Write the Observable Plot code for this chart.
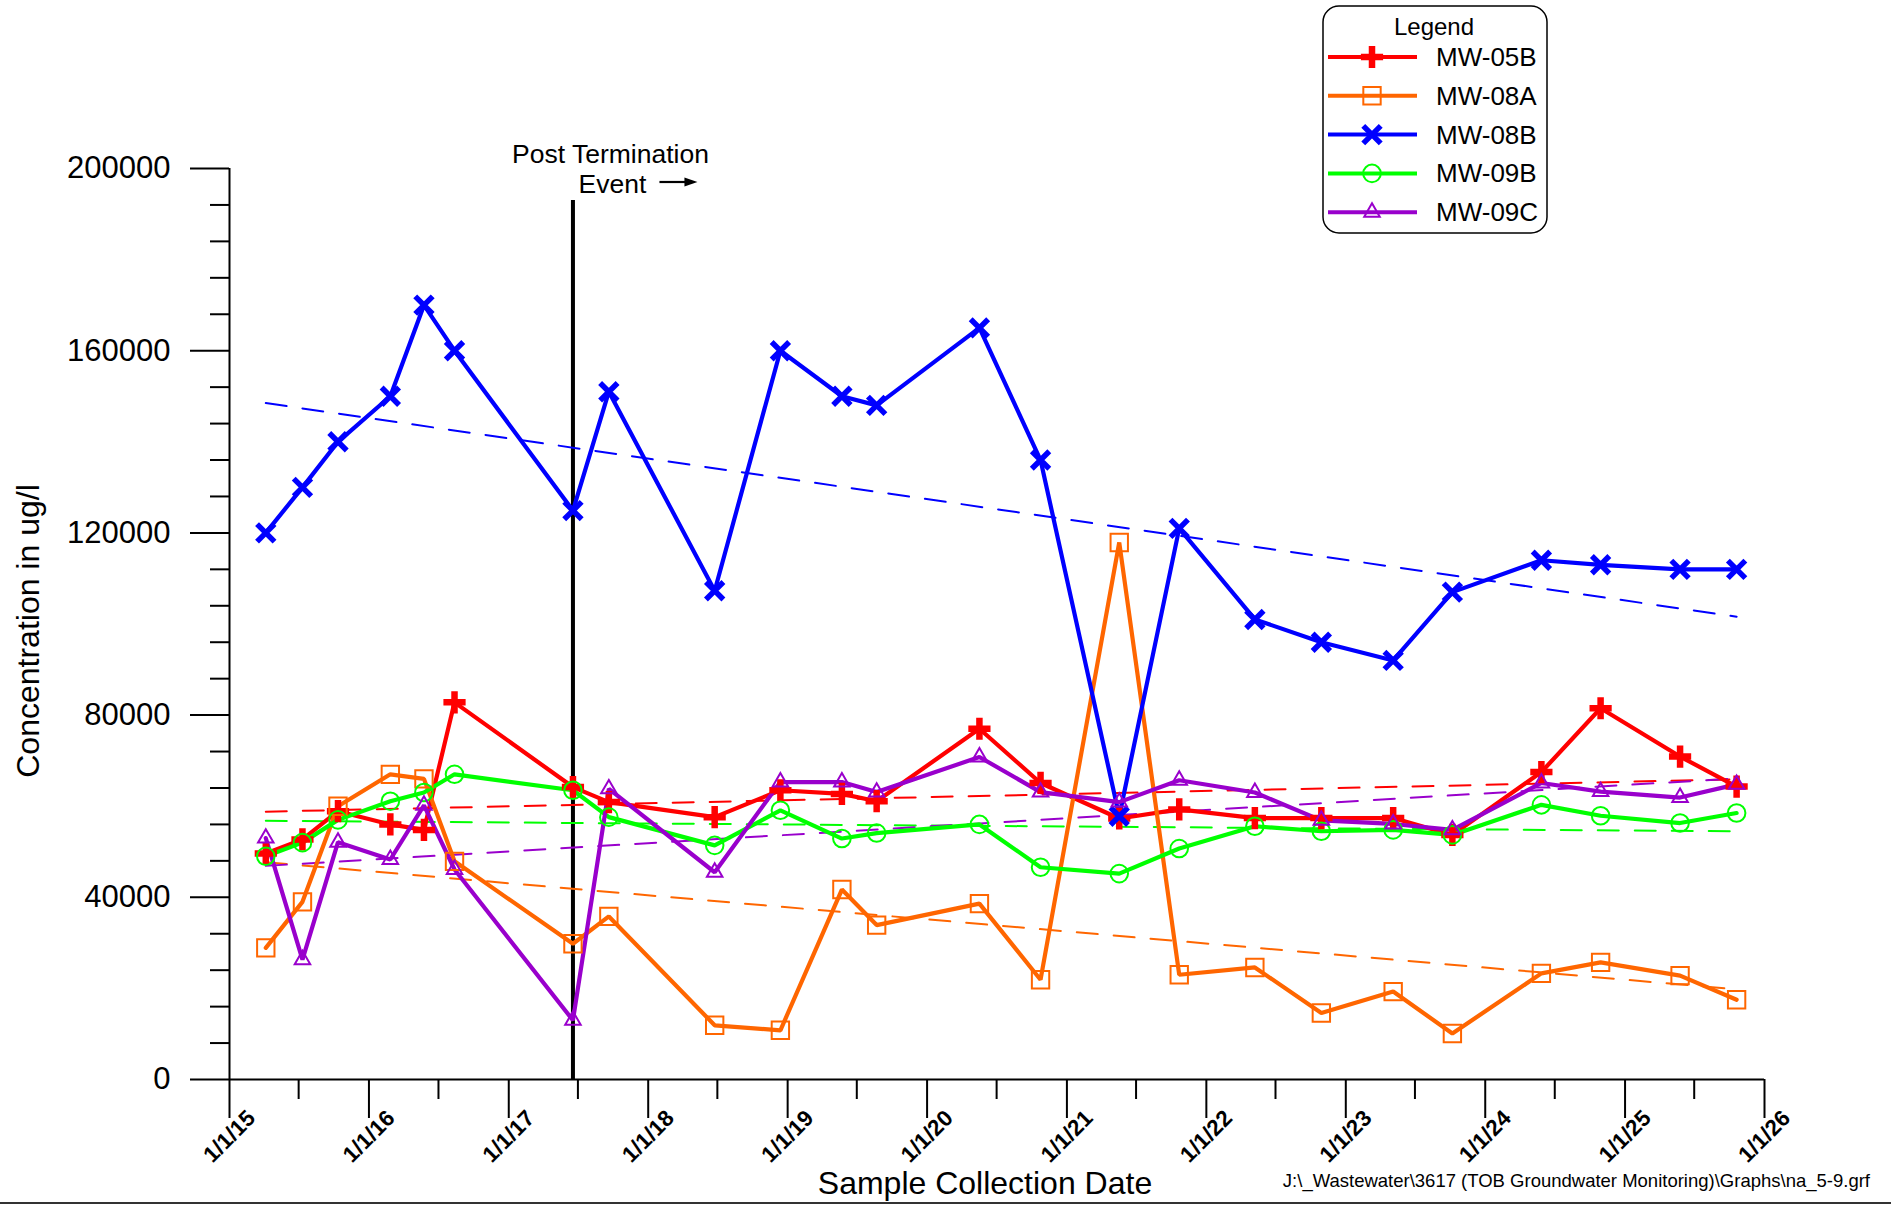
<!DOCTYPE html>
<html><head><meta charset="utf-8">
<script src="https://cdn.jsdelivr.net/npm/d3@7"></script>
<script src="https://cdn.jsdelivr.net/npm/@observablehq/plot@0.6"></script>
<style>
html,body{margin:0;padding:0;background:#fff;}
#chart svg{display:block;}
</style>
</head><body><div id="chart"></div>
<script>
// ---------- DATA ----------
const sampleDates = [
  "2015-04-06","2015-07-11","2015-10-12","2016-02-26","2016-05-24","2016-08-12",
  "2017-06-18","2017-09-20","2018-06-24","2018-12-13","2019-05-23","2019-08-22",
  "2020-05-17","2020-10-24","2021-05-18","2021-10-22","2022-05-08","2022-10-29",
  "2023-05-05","2023-10-07","2024-05-27","2024-10-29","2025-05-25","2025-10-20"
];
const seriesNames = ["MW-05B","MW-08A","MW-08B","MW-09B","MW-09C"];
const seriesColors = ["#ff0000","#ff6600","#0000ff","#00ff00","#9900cc"];

const mw05b = [49600,52700,58900,56000,54800,82800,64200,60900,57600,63500,62700,61100,
               77000,65100,57300,59300,57400,57400,57400,53700,67500,81500,70900,64300];
const mw08a = [28900,39000,60000,67000,66000,47900,29800,35800,11900,10800,41700,33900,
               38600,21900,117900,23000,24600,14600,19300,10100,23300,25700,22800,17500];
const mw08b = [120000,130000,140000,150000,170000,160000,124900,151000,107300,160000,150000,148000,
               165000,136000,57800,121000,101000,96000,92000,107000,114000,113000,112000,112000];
const mw09b = [49000,52000,57000,61100,63000,67000,63500,57600,51400,59100,52900,54100,
               56000,46600,45200,50700,55600,54500,54800,53700,60300,57900,56300,58500];
const mw09c = [53000,26300,52100,48300,60200,46100,13000,63800,45500,65300,65300,63100,
               70800,63100,60900,65700,63000,56900,56100,54800,65100,63200,61900,64800];

// dashed trend lines: value at first and last sample date
const trendStart = [58800, 47700, 148500, 56800, 46900];
const trendEnd   = [65900, 19800, 101600, 54500, 66100];

const yMajorTicks = [0, 40000, 80000, 120000, 160000, 200000];
const xTickLabels = ["1/1/15","1/1/16","1/1/17","1/1/18","1/1/19","1/1/20","1/1/21","1/1/22","1/1/23","1/1/24","1/1/25","1/1/26"];
const eventDate = "2017-06-18";
const eventTop = 193000;
const eventLabel = ["Post Termination", "Event"];
const xLabel = "Sample Collection Date";
const yLabel = "Concentration in ug/l";
const footer = "J:\\_Wastewater\\3617 (TOB Groundwater Monitoring)\\Graphs\\na_5-9.grf";

// ---------- BUILD ----------
const seriesValues = [mw05b, mw08a, mw08b, mw09b, mw09c];
const dates = sampleDates.map(d => new Date(d + "T00:00:00Z"));
const rows = seriesNames.flatMap((s, i) => dates.map((d, j) => ({series: s, date: d, value: seriesValues[i][j]})));
const trendRows = seriesNames.flatMap((s, i) => [
  {series: s, date: dates[0], value: trendStart[i]},
  {series: s, date: dates[dates.length - 1], value: trendEnd[i]}
]);
const parseTick = d3.utcParse("%m/%d/%y");
const xTickDates = xTickLabels.map(parseTick);
const xDomain = [xTickDates[0], xTickDates[xTickDates.length - 1]];
const xMinorDates = d3.utcMonth.every(6).range(xDomain[0], xDomain[1]).filter(d => d.getUTCMonth() === 6);
const yMinorTicks = d3.range(0, 200001, 8000).filter(v => v % 40000 !== 0);
const eventD = new Date(eventDate + "T00:00:00Z");

const symbolSpec = {
  "MW-05B": {symbol: "plus", r: 7.2, sw: 6.5},
  "MW-08A": {symbol: "square", r: 9.8, sw: 2},
  "MW-08B": {symbol: "times", r: 8, sw: 5.5},
  "MW-09B": {symbol: "circle", r: 8.8, sw: 2},
  "MW-09C": {symbol: "triangle2", r: 7.4, sw: 2}
};
const colorOf = s => seriesColors[seriesNames.indexOf(s)];
const FONT = "'Liberation Sans', Arial, Helvetica, sans-serif";

const W = 1891, H = 1205;
const plot = Plot.plot({
  width: W, height: H,
  marginLeft: 229, marginRight: 127, marginTop: 168, marginBottom: 126,
  style: {fontFamily: FONT, fontSize: "16px", color: "black", background: "white", overflow: "visible"},
  x: {type: "utc", domain: xDomain, axis: null},
  y: {domain: [0, 200000], axis: null},
  marks: [
    Plot.axisY(yMinorTicks, {tickSize: 19, text: null, strokeWidth: 2, label: null}),
    Plot.axisY(yMajorTicks, {tickSize: 39, tickPadding: 20, strokeWidth: 2, fontSize: 31, label: null, tickFormat: d3.format("d")}),
    Plot.axisX(xMinorDates, {tickSize: 20, text: null, strokeWidth: 2, label: null}),
    Plot.axisX(xTickDates, {tickSize: 39, text: null, strokeWidth: 2, label: null}),
    Plot.text(xTickDates, {x: d => d, text: (d, i) => xTickLabels[i], frameAnchor: "bottom", dy: 57, rotate: -45,
      textAnchor: "middle", lineAnchor: "middle", fontSize: 22.5, fontWeight: "bold"}),
    Plot.ruleY([0], {strokeWidth: 2}),
    Plot.ruleX([xDomain[0]], {strokeWidth: 2}),
    Plot.ruleX([eventD], {y1: 0, y2: eventTop, strokeWidth: 4, stroke: "black"}),
    ...seriesNames.map(s => Plot.line(trendRows.filter(r => r.series === s), {
      x: "date", y: "value", stroke: colorOf(s), strokeWidth: 2, strokeDasharray: "21,16"})),
    ...seriesNames.map(s => Plot.line(rows.filter(r => r.series === s), {
      x: "date", y: "value", stroke: colorOf(s), strokeWidth: 4.2, strokeLinejoin: "miter"})),
    ...seriesNames.map(s => Plot.dot(rows.filter(r => r.series === s), {
      x: "date", y: "value", symbol: symbolSpec[s].symbol, r: symbolSpec[s].r,
      stroke: colorOf(s), strokeWidth: symbolSpec[s].sw, fill: "none"}))
  ]
});

document.getElementById("chart").appendChild(plot);

// ---------- ANNOTATIONS ----------
const svg = d3.select(plot);
const g = svg.append("g").attr("font-family", FONT).attr("fill", "black").attr("text-anchor", "start");

// axis titles
g.append("text").attr("transform", "translate(28,631) rotate(-90)")
  .attr("text-anchor", "middle").attr("dy", "0.35em").attr("font-size", 32).text(yLabel);
g.append("text").attr("x", 985).attr("y", 1194).attr("text-anchor", "middle")
  .attr("font-size", 32).text(xLabel);
g.append("text").attr("x", 1870).attr("y", 1187).attr("text-anchor", "end")
  .attr("font-size", 18.5).text(footer);

// event label
const ex = plot.scale("x").apply(eventD);
g.append("text").attr("x", ex + 38).attr("y", 163).attr("text-anchor", "middle")
  .attr("font-size", 26.5).text(eventLabel[0]);
g.append("text").attr("x", ex + 40).attr("y", 193).attr("text-anchor", "middle")
  .attr("font-size", 26.5).text(eventLabel[1]);
g.append("line").attr("x1", ex + 87).attr("x2", ex + 115).attr("y1", 182).attr("y2", 182)
  .attr("stroke", "black").attr("stroke-width", 2.2);
g.append("path").attr("d", `M${ex + 125},182 L${ex + 112},177.5 L${ex + 112},186.5 Z`).attr("fill", "black");

// legend
const lg = g.append("g");
lg.append("rect").attr("x", 1323).attr("y", 6).attr("width", 224).attr("height", 227)
  .attr("rx", 16).attr("fill", "white").attr("stroke", "black").attr("stroke-width", 1.5);
lg.append("text").attr("x", 1434).attr("y", 35).attr("text-anchor", "middle").attr("font-size", 24).text("Legend");
const symMap = {plus: d3.symbolPlus, square: d3.symbolSquare, times: d3.symbolTimes, circle: d3.symbolCircle, triangle2: d3.symbolTriangle2};
seriesNames.forEach((s, i) => {
  const y = 57 + i * 38.8;
  const sp = symbolSpec[s];
  lg.append("line").attr("x1", 1328).attr("x2", 1417).attr("y1", y).attr("y2", y)
    .attr("stroke", colorOf(s)).attr("stroke-width", 4);
  lg.append("path").attr("transform", `translate(1372,${y})`)
    .attr("d", d3.symbol(symMap[sp.symbol], Math.PI * sp.r * sp.r)())
    .attr("fill", "none").attr("stroke", colorOf(s)).attr("stroke-width", sp.sw);
  lg.append("text").attr("x", 1436).attr("y", y + 9).attr("text-anchor", "start")
    .attr("font-size", 26).text(s);
});

// bottom border line
g.append("line").attr("x1", 0).attr("x2", W).attr("y1", 1203).attr("y2", 1203)
  .attr("stroke", "#333").attr("stroke-width", 2);
</script>
</body></html>
